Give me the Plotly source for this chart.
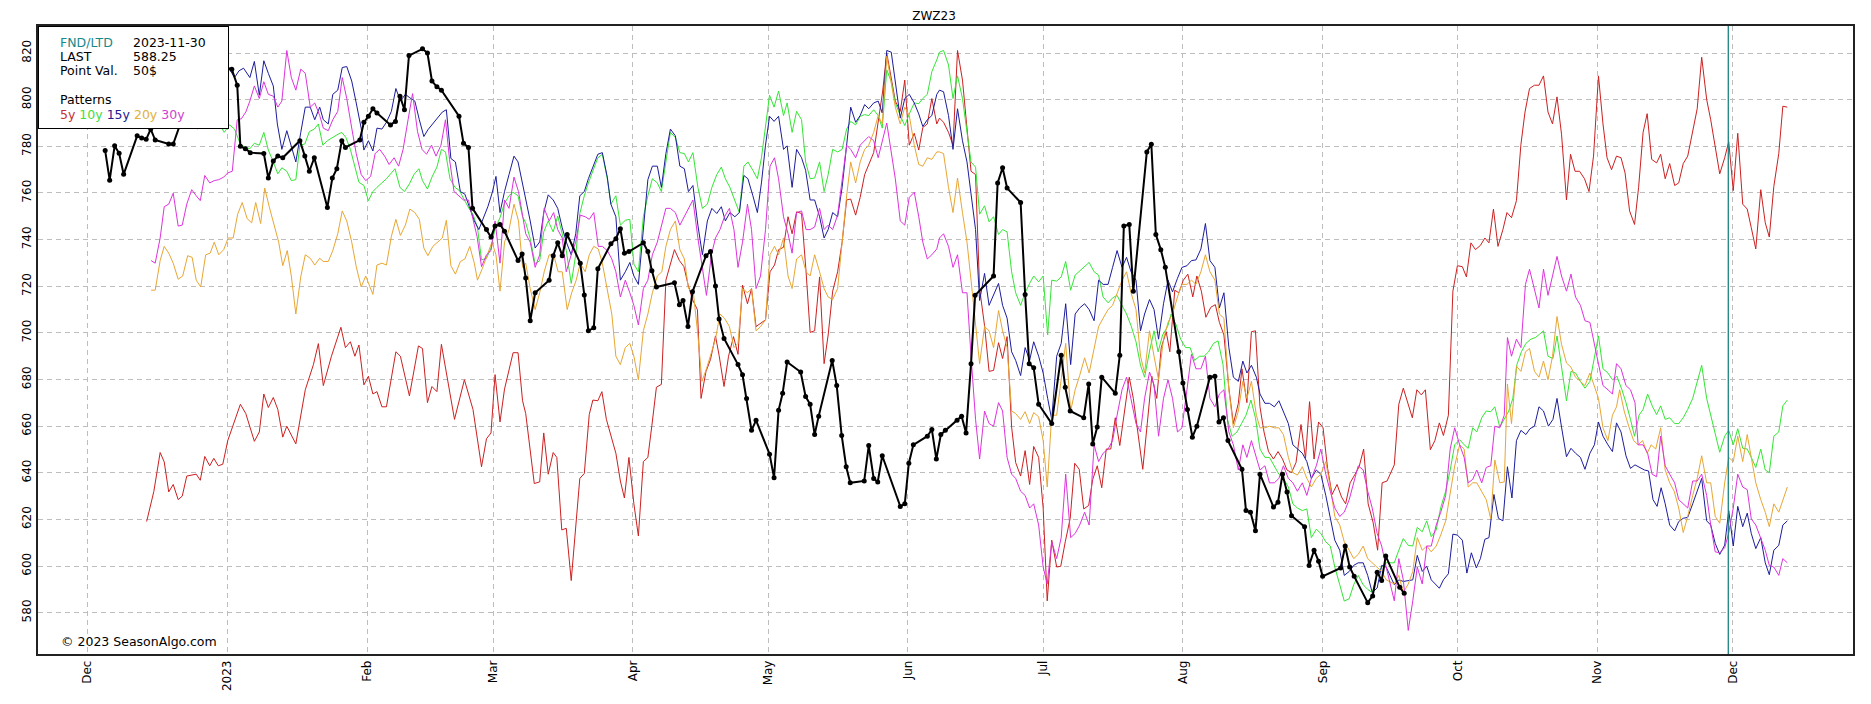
import pandas as pd
import plotly.graph_objects as go

# ---------------- DATA ----------------
# x values are day offsets from 2022-12-01, y values are prices
BASE_DATE = "2022-12-01"

month_ticks = ["2022-12-01", "2023-01-01", "2023-02-01", "2023-03-01", "2023-04-01", "2023-05-01",
               "2023-06-01", "2023-07-01", "2023-08-01", "2023-09-01", "2023-10-01", "2023-11-01", "2023-12-01"]
month_labels = ["Dec", "2023", "Feb", "Mar", "Apr", "May", "Jun", "Jul", "Aug", "Sep", "Oct", "Nov", "Dec"]
y_ticks = [580, 600, 620, 640, 660, 680, 700, 720, 740, 760, 780, 800, 820]

fnd_date = "2023-11-30"
info_labels = ["FND/LTD", "LAST", "Point Val."]
info_values = ["2023-11-30", "588.25", "50$"]
pattern_names = ["5y", "10y", "15y", "20y", "30y"]

price_zwz23 = [(3.9,778.2),(4.9,765.5),(6,780.2),(7,777),(8,768),(11,784.5),(12,783.6),(13,783),(14,787.4),(15,782.7),
    (18,781),(19,781),(21,792),(22,798),(25,803),(26,808),(27,812),(28,810),(29,815),(32,813),(33.2,806.2),(33.9,780),
    (35,779),(36.1,777.3),(39.1,776.9),(40.1,766.4),(41.2,773.7),(42.2,775.8),(43.3,775.1),(47.1,782.4),(48.2,775.8),
    (49.2,769.3),(50.3,775.1),(53.2,753.8),(54.3,766.4),(55.3,770.4),(56.4,782.4),(57.2,779.5),(60.4,782.7),(61.3,790.3),
    (62.3,792.9),(63.3,796.1),(64.2,794.3),(67.2,789.2),(68.3,790.7),(69.3,801.5),(70.3,795.7),(71.3,818.9),(74.3,821.8),
    (75.4,820),(76.4,808),(77.5,805.5),(78.5,804.1),(82.4,792.9),(83.4,781.3),(84.5,779.5),(85.4,753.4),(88.5,744.3),
    (89.5,741.1),(90.4,745.8),(91.5,746.5),(92.5,743.6),(95.5,731),(96.4,733.8),(97.2,723.5),(98.2,705.2),(99.3,717.2),
    (102.4,722.6),(103.3,733.1),(104.3,738.6),(105.3,733.1),(106.4,742.2),(109.3,729.9),(110.2,716.3),(111.1,700.9),
    (112.3,702.2),(113.2,727.5),(116.1,738.2),(117.2,740.4),(118.2,744.7),(119.1,734.2),(120.1,734.9),(123.3,738.6),
    (124.3,734.9),(125.2,726.6),(126.2,719.7),(130.2,721.5),(131.3,712.1),(132.1,713.9),(133.2,702.7),(134.2,717.6),
    (137.2,733.1),(138.2,734.9),(139.3,720.1),(140.1,706),(141.2,697.6),(144.3,686.4),(145.3,682),(146.2,671.9),
    (147.3,658.2),(148.3,662.5),(151.3,648),(152.3,637.9),(153.3,666.8),(154.2,674.1),(155.2,687.5),(158.2,683.2),
    (159.3,672.7),(160.3,669.4),(161.3,656.4),(162.2,664.3),(165.2,688.2),(166.2,677.4),(167.3,656),(168.3,642.6),
    (169.2,635.7),(172.3,636.5),(173.3,651.7),(174.4,637.6),(175.3,636.1),(176.3,647.3),(180.3,625.6),(181.3,626.7),
    (182.2,644.1),(183.2,652),(186.3,655.7),(187.3,658.6),(188.3,645.9),(189.3,656.4),(190.3,658.2),(192.9,662.5),
    (193.9,664.3),(194.9,657.1),(196,686.8),(196.9,716.1),(201,724.4),(201.9,764.3),(203,770.8),(204,762.1),(207,755.9),
    (208,716.5),(208.9,686.8),(209.9,685),(211,669.4),(213.9,661.1),(216,690.4),(216.9,676.7),(218,666.5),(221,663.6),
    (222.1,678.1),(223,652.4),(224,659.6),(225,681),(228,674.1),(229,690.4),(229.9,745.8),(231.1,746.5),(232,717.9),
    (235,777.6),(236,780.9),(237,742.2),(238.1,735.7),(239.1,728.1),(242.1,691.9),(243,678.5),(244,667.2),(245.1,655.3),
    (246.1,660),(249,681),(250.1,681.4),(251,661.8),(252,663.6),(253,653.8),(256.1,641.5),(257,623.8),(258,623.1),
    (259.1,615.1),(260.1,639.4),(263.1,625.3),(264.1,627.4),(265.1,639.4),(266.1,631.8),(267.1,621.6),(270,616.9),
    (271,600.3),(272.1,606.8),(273.1,602.1),(274,595.6),(278,599.2),(279,608.6),(280,599.6),(281,595.6),(284,584.3),
    (285.1,587.2),(286.1,597.4),(287.1,593.8),(288,604.3),(291.1,590.9),(292.1,588.3)]

pattern_5y = [(13.1,619.1),(14.7,632),(16.1,648.7),(17,644.7),(18,631.8),(19,635),(20.1,628.5),(21,630),(22,638.6),
    (24.1,639.4),(25,636.8),(26,647),(27.1,643),(28,646.2),(29,643),(30,643.7),(31.1,653.8),(33.9,669.4),(35.1,665.4),
    (37,653.5),(38.1,657.5),(39.1,673.8),(40.1,668),(41.2,672.3),(42.2,667.2),(43.3,655.3),(44.2,660),(46.2,652.4),
    (48.3,675.6),(50.1,686.4),(51.2,695.4),(52.3,677.4),(54.1,690),(56.2,702.4),(57.2,693.7),(58.3,696.2),(59.3,690),
    (60.2,694.8),(61.3,677.7),(62.3,681.4),(63.3,673.8),(64.2,674.8),(65.3,668.3),(66.3,668.3),(68.4,691.9),(69.4,690),
    (71.4,673),(73.4,694.4),(74.3,693.3),(75.4,670.1),(76.4,677),(77.5,674.8),(78.5,695.1),(81.4,662.9),(83.6,679.9),
    (85.5,667.2),(87.4,642.6),(88.5,654.6),(89.5,657.1),(90.4,682.1),(91.5,661.8),(92.5,675.9),(94.4,691.5),(95.5,691.5),
    (96.5,670.9),(97.2,665.4),(99.1,635.4),(100.3,636.1),(101.2,657.1),(102.2,639.4),(103.3,648.7),(104.1,646.6),
    (105.2,615.5),(106.2,616.2),(107.3,593.8),(109.2,637.6),(110.2,639.7),(111.3,665),(112.1,671.2),(113.2,670.9),
    (114.1,674.8),(115.1,662.9),(117.2,648.4),(118.2,636.5),(119.1,629.2),(120.1,646.6),(121.2,626.7),(122.2,612.9),
    (123.3,644.8),(124.3,646.6),(125.2,660.4),(126.2,676.7),(127.3,677.9),(128.3,722.6),(130.2,735.7),(131.3,731),
    (132.3,728.4),(133.2,720.8),(134.2,714.3),(135.3,709.9),(136.1,671.9),(137.2,683.5),(138.2,688.6),(139.3,698.7),
    (140.1,690.4),(141.2,677),(142.2,690),(143.3,698.4),(144.3,690.8),(145.3,720.5),(146.4,712.5),(147.3,719),
    (148.3,702.7),(150.4,705.6),(151.4,726.2),(152.4,729.1),(153.3,735.7),(154.4,736.7),(155.4,749.8),(156.3,742.5),
    (157.3,751.9),(158.4,751.2),(159.4,726.2),(160.3,700.2),(161.3,700.9),(162.4,724),(163.4,686.8),(164.3,699.1),
    (165.3,717.9),(166.4,726.2),(167.4,738.9),(168.4,757),(169.3,757.4),(170.4,750.5),(171.4,758.1),(172.4,767.9),
    (174.4,777.3),(175.4,789.6),(176.4,803.7),(177.3,820),(178.3,809.5),(179.2,799.4),(180.3,795),(181.3,808.4),
    (182.3,780.5),(183.4,785.6),(184.4,778.4),(185.3,788.1),(186.3,789.6),(187.3,800.5),(188.4,789.6),(189,792.1),
    (189.9,790.3),(191,786),(192,780.5),(193,821.1),(194.1,808.4),(195.1,786.7),(196,769.3),(197,767.9),(197.9,719),
    (199,703.1),(200,683.5),(201,683.9),(202.1,695.8),(203,689),(204,698.4),(205,659.6),(205.9,644.4),(207,638.6),
    (208,649.5),(209,635),(209.9,651.3),(211,646.6),(212,624.9),(212.9,585.1),(213.9,611.1),(215,599.6),(215.9,599.9),
    (216.9,610.4),(218,620.5),(219,644.1),(220,641.5),(221,624.5),(222.1,626),(223,637.2),(224,643),(225,633.6),
    (226,650.2),(227,650.2),(228,663.6),(229,651.7),(230.1,666.5),(231.1,681),(232,671.9),(233,657.5),(234.1,641.5),
    (235.1,661.1),(236.1,681.4),(237.2,671.9),(238.2,693.7),(239.3,700.5),(240.1,691.9),(241.2,718.3),(242.1,717.2),
    (243.1,722.6),(244.1,725.2),(245.2,715.4),(246.1,724.4),(247.1,717.9),(248.1,706.7),(249.2,711),(250.2,712.1),
    (251.1,704.5),(252.1,699.1),(253.2,676.3),(254.2,661.1),(255.3,669.8),(256.1,684.6),(257.2,670.1),(258.2,700.5),
    (259.1,700.9),(260.1,668.3),(261,657.5),(262,649.1),(263.1,645.9),(264.1,649.1),(265.1,645.9),(266.1,641.2),
    (267.1,640.1),(268.1,644.4),(269.2,660.7),(270.2,646.2),(271.1,670.5),(272.1,645.9),(273.1,661.8),(274.1,659.3),
    (275.1,641.9),(276.1,630.7),(277.2,635),(278.2,629.6),(279.1,626.7),(280.1,635.7),(281.2,639.4),(282.1,642.6),
    (283.1,650.2),(284.1,626.7),(285.2,618.7),(286.2,606.8),(287.2,635.7),(288.3,636.5),(289.9,643.4),(290.9,669.4),
    (291.9,676.3),(293.9,663.6),(294.9,675.6),(295.9,673.4),(296.8,675.6),(297.9,649.9),(298.9,653.8),(299.9,661.4),
    (300.8,656),(301.9,664.7),(302.9,717.9),(303.9,728.8),(305,728.4),(305.9,724),(306.9,738.6),(307.9,735.7),
    (309,737.5),(310,740.7),(310.9,738.6),(311.9,753.1),(312.9,737.1),(314,744.3),(314.9,751.6),(315.9,749.4),
    (317,756.7),(318,780.9),(318.9,794.7),(319.9,804.8),(321,806.2),(322,806.2),(323,810.2),(324,794.7),(325,789.6),
    (326,801.2),(327,785.2),(328.1,757),(329,776.6),(330,769.3),(331,769.3),(332.1,766.1),(333.1,760.6),(334.1,775.8),
    (335.2,810.2),(336.2,789.6),(337.1,775.1),(338.1,770),(339.2,775.8),(340.2,775.1),(341.1,768.6),(342.1,752.3),
    (343.2,746.5),(344.1,762.4),(345.1,786),(346,794),(347,774.4),(348.1,772.9),(349,776.6),(350,766.1),(351,772.6),
    (352.1,763.2),(353,764.3),(354,772.6),(355,775.8),(356.1,786.3),(357.1,796.1),(358.1,818.2),(359.2,800.1),
    (360.1,791.4),(361.1,779.1),(362.1,768.2),(363.2,775.1),(364.1,782),(365.1,761),(366.1,785.6),(367.2,755.2),
    (368.2,753.1),(369.1,745.1),(370.1,736),(371.2,761.4),(372.2,747.2),(373.1,741.1),(374.1,762.8),(375.2,776.9),
    (376.1,797.2),(377.1,796.8)]

pattern_10y = [(14,795),(16,798),(18,793),(20,796),(22,790),(24.4,787.4),(26,792),(28,794),(30.3,786),(31.5,789.2),
    (32.6,787.4),(33.9,780.9),(35,779.5),(36,779),(37,781.3),(38.1,780.5),(39.1,786),(40.1,778.4),(41.2,773.3),
    (42.2,768.2),(43.1,770.8),(44.2,769.3),(45.2,765.3),(46.2,765.7),(47.1,780.5),(48.2,781),(49.2,786.3),(50.3,787.4),
    (51.2,789.6),(52.2,780.5),(53.2,782.4),(54.3,783.8),(55.3,784.9),(56.4,786),(57.3,783.8),(58.3,778.7),(59.3,771.1),
    (60.2,764.6),(61.3,763.2),(62.3,756.7),(63.3,760.6),(64.2,762.4),(66.3,766.1),(67.2,768.2),(68.2,770.4),(69.3,762.4),
    (70.3,760.6),(71.4,763.9),(72.4,767.9),(73.5,770.4),(74.3,765.3),(75.4,761.7),(76.4,766.8),(77.5,771.1),(78.5,778.7),
    (79.4,777.6),(80.4,766.1),(81.5,762.4),(82.5,761),(83.6,757),(84.6,753.4),(85.5,750.9),(86.5,745.1),(87.4,731.3),
    (88.5,732),(89.5,736.4),(90.4,744.7),(91.5,749.4),(92.5,755.6),(93.5,758.8),(94.4,760.3),(95.5,758.8),(96.5,749.8),
    (97.2,747.2),(98.2,740.4),(99.3,729.5),(100.3,731),(101.2,743.3),(102.2,748),(103.3,743.3),(104.3,750.1),
    (105.3,742.5),(106.2,735.3),(107.3,721.2),(108.3,733.5),(109.2,751.2),(110.2,758.8),(111.1,764.3),(112.1,769.7),
    (113.2,775.1),(114.2,776.6),(115.3,766.1),(116.1,755.2),(117.2,758.8),(118.2,746.2),(119.3,748.3),(120.3,748.7),
    (121.2,729.5),(122.2,726.2),(123.3,749.8),(124.3,758.8),(125.3,766.1),(126.4,764.3),(127.3,760.6),(128.3,773.3),
    (129.3,786),(130.4,783.8),(131.4,777.3),(132.4,776.9),(133.3,773.3),(134.3,777.3),(135.4,762.4),(136.4,753.4),
    (137.5,755.2),(138.5,762.4),(139.6,767.9),(140.6,771.1),(141.5,766.1),(142.5,762.4),(143.6,757),(144.6,751.6),
    (145.6,771.5),(146.5,773.3),(147.6,769.7),(148.6,766.1),(149.5,775.1),(150.4,787.8),(151.3,801.9),(152.3,796.8),
    (153.3,803.7),(154.4,793.2),(155.2,798.6),(156.3,786),(157.3,795),(158.4,791.4),(159.3,773.3),(160.3,766.1),
    (161.3,766.4),(162.4,773.3),(163.4,760.6),(164.3,767.9),(165.3,778.7),(166.4,777.6),(167.4,778.7),(168.4,787.4),
    (169.3,790.7),(170.4,789.2),(171.4,792.9),(172.4,793.6),(173.3,793.2),(174.4,795.7),(175.4,793.2),(176.3,787.8),
    (177.3,812.8),(178.3,807.7),(179.2,798.6),(180.3,793.2),(181.3,788.9),(182.3,793.9),(183.4,798.6),(184.4,798.3),
    (185.3,800.5),(186.3,802.3),(187.3,812),(188.4,817.1),(189,820.4),(189.9,821.1),(191,814.9),(192,800.5),(193,810.2),
    (194.1,800.5),(195.1,787.1),(196,773.3),(197,771.1),(197.9,750.9),(199,754.5),(200,747.6),(201,749.8),(202.1,742.2),
    (203,744.3),(204,743.3),(205,726.2),(205.9,717.2),(207,711.8),(208,717.2),(209,721.2),(209.9,724.4),(211,721.9),
    (212,724.4),(213,699.1),(213.9,722.6),(215,722.2),(216,724),(217,730.6),(218.1,718.3),(219.1,724.8),(220.1,726.6),
    (221.2,728.4),(222.2,730.2),(223.3,726.2),(224.3,724.8),(225.3,715.4),(226.4,712.9),(227.4,715),(228.4,716.1),
    (229.5,711.8),(230.5,708.1),(231.5,703.1),(232.6,696.2),(233.6,686.1),(234.5,681),(235.6,692.2),(236.6,700.9),
    (237.5,691.9),(238.5,699.1),(239.6,702.7),(240.4,708.1),(241.5,703.4),(242.5,697.3),(243.6,693.7),(244.6,693.7),
    (245.6,688.2),(246.7,690),(247.7,690),(248.7,691.9),(249.8,695.5),(250.8,696.6),(251.9,686.4),(252.9,662.9),
    (253.9,655.7),(255,657.5),(256,661.1),(257,664.7),(258.1,671.2),(259.1,663.6),(260.1,650.2),(261.2,646.6),
    (262.2,646.6),(263.3,643),(264.3,639.4),(265.3,637.6),(266.4,633.9),(267.4,626.7),(268.4,624.9),(269.5,623.8),
    (270.5,624.5),(271.5,612.2),(272.6,615.8),(273.6,614),(274.7,610.4),(275.7,608.6),(276.7,599.6),(277.8,592),
    (278.8,585),(279.9,586),(280.9,592),(281.9,596),(283,592),(284,590),(285,588.7),(286.1,596),(287.1,599.6),
    (288.1,601.4),(289.9,601.4),(290.9,606.8),(291.9,611.8),(293,608.9),(294,608.6),(295,616.6),(296.1,614.7),
    (297.1,619.4),(298.1,612.6),(299.2,615.5),(300.2,625.1),(301.3,632.1),(302.3,641.2),(303.3,652),(304.4,654.2),
    (305.4,652),(306.3,650.5),(307.3,659.3),(308.2,657.5),(309.3,663.6),(310.3,666.5),(311.3,666.2),(312.2,668.3),
    (313.3,659.6),(314.3,662.9),(315.3,666.5),(316.2,671.9),(317.1,686.4),(318.1,691.9),(319.1,695.5),(320.2,697.3),
    (321.2,698),(322.1,699.4),(323,700.9),(324,690),(325.1,689),(326,698.7),(327,686.4),(328.1,670.9),(329.1,683.5),
    (330.1,682.8),(331.2,679.2),(332.2,676.3),(333.3,679.2),(334.3,690),(335.2,698.7),(336.2,684.6),(337.3,682.8),
    (338.3,679.9),(339.3,681.4),(340.4,675.6),(341.3,670.1),(342.3,662.9),(343.2,655.7),(344.2,664.7),(345.1,667.2),
    (346.1,673.8),(347.2,668.3),(348.1,665),(349,668.7),(350,662.9),(351,663.6),(352.1,661.1),(353,661.1),(354,663.6),
    (355,667.2),(356.1,671.9),(357.1,679.2),(358.1,686.1),(359.2,671.9),(360.1,664.7),(361.1,657.5),(362.1,648.8),
    (363.2,655.7),(364.1,658.2),(365.1,652),(366.1,658.9),(367.2,650.5),(368.2,650.2),(369.1,646.6),(370.1,642.3),
    (371.2,650.2),(372.2,641.2),(373.1,640.1),(374.1,655.7),(375.2,657.5),(376.1,668.7),(377.1,671.2)]

pattern_15y = [(14,800),(17,806),(20,803),(23,810),(26,808),(29,812),(31.5,813.1),(32.6,809.5),(33.6,812.4),(34.6,813.5),
    (36,809.5),(37,816.4),(38.1,801.9),(39.1,816.7),(40.1,811.3),(41.2,805.9),(42.1,789.6),(43.1,778.7),(44.2,786.7),
    (45.2,780.5),(46.2,773.3),(47.3,786),(48.3,796.8),(49.4,796.8),(50.4,791.4),(51.5,796.8),(52.3,791.4),(53.4,789.6),
    (54.4,802.3),(55.5,804.1),(56.5,813.8),(57.5,814.2),(58.6,808),(59.6,798.6),(60.7,787.8),(61.3,778.4),(62.3,782.4),
    (63.3,778),(64.2,787.8),(65.3,787.4),(66.3,790.3),(67.4,795),(68.4,804.8),(69.4,799.4),(70.5,802.3),(71.5,800.8),
    (72.6,799.4),(73.6,791.4),(74.6,784.2),(75.5,787.1),(76.6,789.6),(77.6,792.1),(78.7,794.7),(79.6,795.7),(80.6,774.8),
    (81.6,773.3),(82.7,760.6),(83.7,759.5),(84.8,753.4),(85.8,748),(86.8,744.3),(87.9,749.8),(88.8,754.1),(89.8,760.3),
    (90.6,767.1),(91.5,751.6),(92.5,760.6),(93.5,767.9),(94.6,775.8),(95.5,773.3),(96.5,764.3),(97.2,757.4),(98.2,748),
    (99.3,736.4),(100.3,739),(101.2,751.6),(102.2,759.2),(103.3,757),(104.3,753.4),(105.3,745.1),(106.2,739),
    (107.3,733.5),(108.3,742.5),(109.2,758.8),(110.2,760.6),(111.1,766.1),(112.1,771.5),(113.2,776.6),(114.2,777.3),
    (115.3,766.8),(116.1,755.2),(117.2,749.8),(118.2,722.6),(119.3,726.2),(120.3,730.2),(121.2,724.4),(122.2,720.8),
    (123.3,744.3),(124.3,765.7),(125.3,771.5),(126.4,771.5),(127.3,762.4),(128.3,776.9),(129.3,787.4),(130.4,784.5),
    (131.4,771.5),(132.4,770.4),(133.3,760.6),(134.3,763.2),(135.4,746.2),(136.4,733.5),(137.5,748),(138.5,753.4),
    (139.6,751.2),(140.6,754.1),(141.5,748),(142.5,751.6),(143.6,749.8),(144.6,751.6),(145.6,767.5),(146.5,766.1),
    (147.6,758.8),(148.6,751.6),(149.5,764.3),(150.4,780.5),(151.3,792.9),(152.3,790.7),(153.3,792.9),(154.4,778.7),
    (155.2,780.2),(156.3,762.4),(157.3,778.7),(158.4,775.1),(159.3,769.7),(160.3,757),(161.3,757),(162.4,749.8),
    (163.4,740.7),(164.3,744.3),(165.3,751.6),(166.4,749.8),(167.4,762.4),(168.4,780.5),(169.3,796.8),(170.4,790.3),
    (171.4,793.2),(172.4,797.9),(173.3,796.1),(174.4,798.6),(175.4,799.4),(176.3,794.3),(177.3,821.1),(178.3,820.4),
    (179.2,807.7),(180.3,792.1),(181.3,800.5),(182.3,802.3),(183.4,798.6),(184.4,793.9),(185.3,788.5),(186.3,791.4),
    (187.3,793.2),(188.4,802.3),(189,804.1),(189.9,803.4),(191,793.2),(192,778.7),(193,796.1),(194.1,782.4),(195.1,773.3),
    (196,758.8),(197,744.3),(197.9,713.9),(199,725.5),(200,711.8),(201,716.5),(202.1,721.2),(203,711.8),(204,706.3),
    (205,691.9),(205.9,688.2),(207,681.7),(208,693.7),(209,688.2),(209.9,696.2),(211,690),(212,682.8),(213,671.9),
    (213.9,662.9),(215,690),(216,695.5),(217,712.5),(218.1,686.4),(219.1,708.1),(220.1,710.7),(221.2,712.5),(222.2,710),
    (223.3,705.2),(224.3,722.6),(225.3,720.8),(226.4,720.8),(227.4,728.1),(228.4,735.3),(229.5,728.1),(230.5,732.4),
    (231.5,726.2),(232.6,722.6),(233.6,700.9),(234.5,708.1),(235.6,714.3),(236.6,710),(237.6,697.3),(238.7,712.5),
    (239.7,722.6),(240.7,717.6),(241.8,723.4),(242.8,728.1),(243.9,728.8),(244.9,731),(245.9,731.3),(247,736),(248,746.9),
    (249,731),(250.1,728.1),(251.1,710.7),(252.1,717.2),(253.2,693.7),(254.2,681),(255.3,679.2),(256.3,687.9),
    (257.2,682.8),(258.2,686.1),(259.3,681),(260.1,673.8),(261.2,669.8),(262.2,669.8),(263.3,668.3),(264.3,670.9),
    (265.3,666.5),(266.4,661.1),(267.4,652),(268.4,650.2),(269.5,648.4),(270.5,644.8),(271.5,637.6),(272.6,641.2),
    (273.6,639.4),(274.7,630.3),(275.7,621.3),(276.7,611.1),(277.8,606.8),(278.8,596),(279.9,597.7),(280.9,600.3),
    (281.9,601.4),(283,601.4),(284,596),(285,588.7),(286.1,590.6),(287.1,600.3),(288.1,599.6),(289.9,592),(290.9,594.1),
    (291.9,593.4),(294,594.1),(295,604.6),(296.1,597.7),(297.1,599.9),(298.1,594.1),(299.9,590.5),(300.8,594.1),
    (301.9,596.7),(302.9,613.7),(303.9,613.3),(305,611.1),(306,597),(307,605.7),(308.1,599.2),(309,603.2),(310,611.5),
    (310.9,612.2),(312,630.7),(313,620.5),(314,619.4),(315,642.6),(316,629.2),(317,653.8),(318,658.2),(319.1,656.4),
    (320,658.9),(321,660),(322,668.3),(323,666.5),(324.1,660),(325.1,662.9),(326,671.9),(327,659.6),(328.1,646.9),
    (329.1,650.5),(330.1,648.4),(331.2,646.6),(332.2,641.5),(333.3,648.4),(334.3,652),(335.2,661.8),(336.2,655.7),
    (337.3,652),(338.3,649.1),(339.2,661.4),(340.2,657.5),(341.3,647.3),(342.3,641.9),(343.3,643.4),(344.4,642.3),
    (345.4,641.2),(346.3,640.8),(347.3,628.5),(348.2,625.6),(349.1,633.6),(350,626.7),(351,617.6),(352.1,615.1),
    (353,619.1),(354,620.5),(355,620.9),(356.1,626.7),(357.1,632.5),(358.1,637.6),(359.2,619.4),(360.1,617.6),
    (361.1,609.7),(362.1,605),(363.2,609),(364.1,623.8),(365.1,608.6),(366.1,625.6),(367.2,616.9),(368.2,622.7),
    (369.1,614),(370.1,607.5),(371.2,612.2),(372.2,601.4),(373.1,596.3),(374.1,606.8),(375.2,608.9),(376.1,617.6),
    (377.1,619.4)]

pattern_20y = [(14.1,718.3),(15,718.3),(16.1,731),(17,737.1),(18,734.2),(19,729.9),(20.1,723),(21.1,724.4),(22.2,733.1),
    (23.2,732.4),(24.1,722.6),(25.1,719.7),(26.2,733.5),(27.2,734.2),(28.1,738.9),(29.1,733.5),(30.2,735.7),(31.2,740.7),
    (32.3,740.7),(33.3,750.9),(34.3,755.9),(35.4,749),(36.4,747.2),(37.3,755.9),(38.4,746.9),(39.3,762.1),(40.3,754.1),
    (41.4,746.2),(42.4,738.9),(43.3,728.8),(44.3,735.3),(45.2,724.4),(46.2,708.1),(47.3,724.1),(48.3,733.5),(49.4,732),
    (50.4,729.1),(51.5,732),(52.3,730.6),(53.4,730.6),(54.4,735.3),(55.5,742.5),(56.5,752.3),(57.5,748),(58.6,738.9),
    (59.6,728.4),(60.7,719.7),(61.7,724.4),(62.3,721.5),(63.3,716.5),(64.2,729.1),(65.3,729.9),(66.3,729.1),(67.4,741.4),
    (68.4,748.7),(69.4,741.8),(70.5,746.2),(71.5,753.1),(72.6,751.6),(73.6,748.7),(74.6,736.4),(75.5,733.1),(76.6,737.1),
    (77.6,738.9),(78.7,740.7),(79.6,748.3),(80.6,728.8),(81.6,725.2),(82.7,730.6),(83.7,731.7),(84.8,737.1),(85.8,729.9),
    (86.5,722.6),(87.6,727.7),(88.6,733.5),(89.7,738.9),(90.6,733.5),(91.5,717.9),(92.5,738.9),(93.5,744.3),(94.6,755.2),
    (95.6,748),(96.5,728.1),(97.2,729.9),(98.2,719),(99.3,710),(100.3,717.2),(101.3,726.2),(102.4,733.5),(103.4,733.5),
    (104.4,726.2),(105.3,726.2),(106.4,710),(107.4,717.2),(108.4,722.6),(109.3,729.9),(110.4,726.2),(111.3,733.5),
    (112.3,737.1),(113.3,736),(114.2,729.9),(115.3,719),(116.3,708.1),(117.2,690),(118.2,686.4),(119.3,693.7),
    (120.3,695.5),(121.2,690),(122.2,679.9),(123.3,700.9),(124.3,708.1),(125.3,717.2),(126.4,724.4),(127.4,726.2),
    (128.3,737.1),(129.3,744.3),(130.4,748),(131.4,735.7),(132.4,731.7),(133.3,719),(134.4,717.2),(135.4,699.1),
    (136.3,679.2),(137.3,684.6),(138.4,691.9),(139.3,697.3),(140.3,708.1),(141.3,706.3),(142.4,702.7),(143.4,693.7),
    (144.3,695.5),(145.3,719),(146.4,717.2),(147.3,719),(148.3,700.9),(149.3,702.7),(150.4,705.6),(151.4,733.5),
    (152.4,737.1),(153.3,733.5),(154.4,740.7),(155.4,724.4),(156.3,719),(157.3,731.7),(158.4,733.5),(159.4,726.2),
    (160.3,724.4),(161.3,733.5),(162.4,726.2),(163.4,719),(164.3,715.4),(165.3,714.3),(166.4,719),(167.4,738.9),
    (168.4,758.8),(169.3,773.3),(170.4,764.3),(171.4,773.3),(172.4,778.7),(173.3,780.5),(174.4,786),(175.4,793.2),
    (176.3,789.6),(177.3,818.6),(178.3,807.7),(179.2,796.8),(180.3,789.6),(181.3,796.8),(182.3,793.2),(183.4,780.5),
    (184.4,772.2),(185.3,771.5),(186.3,775.1),(187.3,774.4),(188.4,777.6),(189,777.6),(189.9,776.9),(191,762.4),
    (192,751.6),(193,766.4),(194.1,751.6),(195.1,738.9),(196,722.6),(197,702.7),(197.9,686.8),(199,702.7),(200,700.9),
    (201,693.7),(202.1,709.6),(203,700.9),(204,693.7),(205,666.5),(205.9,665.4),(207,662.9),(208,666.2),(209,661.1),
    (209.9,665.8),(211,664),(212,653.8),(212.9,633.9),(213.9,664.7),(215,664.7),(216,679.2),(217,695.5),(218.1,666.5),
    (219.1,675.6),(220.1,681.7),(221.2,689.3),(222.2,682.8),(223.3,692.6),(224.3,702.7),(225.3,706.3),(226.4,710),
    (227.4,711.8),(228.4,717.2),(229.5,722.6),(230.5,726.2),(231.5,717.2),(232.6,710),(233.6,690),(234.5,682.8),
    (235.6,700.9),(236.6,690),(237.6,679.9),(238.7,697.3),(239.7,704.5),(240.7,708.1),(241.8,715.4),(242.8,720.8),
    (243.9,720.8),(244.9,722.6),(245.9,720.8),(247,726.2),(248,733.5),(249,726.2),(250.1,722.6),(251.1,708.1),
    (252.1,706.3),(253.2,675.6),(254.2,659.3),(255.3,666.5),(256.3,679.2),(257.2,671.9),(258.2,679.2),(259.3,664.7),
    (260.1,659.3),(261.2,659.3),(262.2,660),(263.3,659.3),(264.3,659.3),(265.3,656.4),(266.4,646.6),(267.4,640.1),
    (268.4,639),(269.5,642.6),(270.5,637.6),(271.5,633.9),(272.6,637.6),(273.6,639.4),(274.7,644.8),(275.7,633.9),
    (276.7,621.3),(277.8,617.6),(278.8,610.4),(279.9,606.8),(280.9,603.2),(281.9,605),(283,608.6),(284,603.2),
    (285,601.4),(286.1,599.6),(287.1,597.7),(288.1,594.1),(289.9,592.3),(290.9,596),(291.9,588.7),(293,592.3),
    (294,597.7),(295,612.2),(296.1,606.8),(297.1,608.6),(298.1,606.1),(299.2,608.6),(300.2,613.3),(301.3,619.4),
    (302.3,632.1),(303.3,643),(304.4,652),(305.4,650.2),(306.3,633.9),(307.3,635.7),(308.2,635.7),(309.3,632.1),
    (310.3,628.5),(311.3,620.2),(312.2,645.5),(313.3,635.7),(314.3,636.1),(315,678.1),(315.9,661.1),(317,685.7),
    (318,683.5),(319,691.9),(319.9,693.3),(321,683.5),(322,681),(323,687.9),(324,679.9),(325,690),(326,707),(327,695.1),
    (328.1,687.1),(329.1,685.3),(330.1,681),(331.2,679.2),(332.2,677.4),(333.3,682.8),(334.3,677.4),(335.2,671.9),
    (336.2,659.3),(337.3,653.8),(338.3,664.7),(339.2,668.3),(339.9,675.6),(340.9,666.5),(341.9,660),(343,653.8),
    (344,652),(345,653.8),(346,648.4),(346.9,652),(347.9,650.2),(349,659.3),(350,641.2),(351,635.7),(352,632.1),
    (353,624.9),(354,614.4),(355,621.3),(356.1,630.3),(357.1,637.6),(358.1,647.3),(359.2,635.7),(360.1,635.7),
    (361.1,621.3),(362.1,618.4),(363.2,635.7),(364.1,646.6),(365.1,644.8),(366.1,655.7),(367.2,644.8),(368.2,656.4),
    (369.1,646.6),(370.1,635.7),(371.2,628.5),(372.2,623.1),(373.1,616.9),(374.1,626.7),(375.2,623.1),(376.1,628.5),
    (377.1,633.9)]

pattern_30y = [(14.1,731),(15,729.9),(16.1,740.7),(17,754.1),(18,755.2),(19,759.9),(20.1,745.8),(21,746.2),(22,755.2),
    (23.1,761.4),(24.1,758.8),(25,756.7),(26,767.5),(27.1,764.3),(28.1,765.3),(29.1,765.7),(30.2,766.8),(31.1,768.6),
    (32.1,769.3),(33.2,791.4),(34.1,791.8),(35.1,794.7),(36,799.4),(37,805.9),(38.1,800.5),(39.1,807.7),(40.1,802.3),
    (41.2,801.5),(42.2,796.8),(43.1,799.4),(44.2,821.1),(45.2,809.5),(46.2,804.1),(47.3,813.1),(48.3,811.3),(49.4,796.8),
    (50.4,798.6),(51.5,793.2),(52.3,787.8),(53.4,786.7),(54.4,791.4),(55.5,795),(56.5,809.5),(57.5,800.5),(58.6,787.8),
    (59.6,776.9),(60.7,767.9),(61.7,765.3),(62.8,767.1),(63.8,776.9),(64.8,778.7),(65.9,775.8),(66.9,772.2),(68,775.1),
    (69,771.5),(70,778.7),(71.1,791.4),(72.1,802.6),(73.2,786.3),(74.2,778.7),(75.2,776.6),(76.3,780.5),(77.3,775.8),
    (78.4,780.5),(79.4,791.4),(80.3,774.4),(81.3,760.6),(82.4,758.8),(83.4,757),(84.5,757),(85.4,749.8),(86.4,741.4),
    (87.4,728.4),(88.5,733.5),(89.5,735.3),(90.4,748),(91.5,729.9),(92.5,757),(93.5,753.4),(94.6,766.8),(95.6,760.6),
    (96.5,749.8),(97.2,742.5),(98.2,738.9),(99.3,728.1),(100.3,733.5),(101.3,753.4),(102.4,748),(103.4,751.6),
    (104.3,744.3),(105.3,740.7),(106.2,726.2),(107.3,733.5),(108.3,738.9),(109.3,750.5),(110.4,749.8),(111.3,748.7),
    (112.3,751.6),(113.3,737.1),(114.2,737.1),(115.3,735.3),(116.3,731.7),(117.2,726.2),(118.2,715.4),(119.3,722.6),
    (120.3,717.2),(121.2,711.8),(122.2,703.4),(123.3,719),(124.3,722.6),(125.3,733.5),(126.4,738.9),(127.3,746.2),
    (128.3,753.4),(129.3,753.4),(130.4,751.6),(131.4,746.2),(132.4,749.8),(133.3,753.4),(134.3,757),(135.4,740.7),
    (136.3,729.9),(137.3,716.1),(138.4,733.5),(139.3,740.7),(140.3,744.3),(141.3,749.8),(142.4,753.4),(143.4,744.3),
    (144.3,728.1),(145.3,738.9),(146.4,755.2),(147.3,744.3),(148.3,719),(149.3,724.4),(150.4,744.3),(151.4,771.5),
    (152.4,775.1),(153.3,766.1),(154.4,749.8),(155.4,742.5),(156.3,734.2),(157.3,751.6),(158.4,752.3),(159.4,744.3),
    (160.3,744.3),(161.3,745.4),(162.4,753.4),(163.4,744.3),(164.3,746.2),(165.3,744.3),(166.4,750.5),(167.4,766.1),
    (168.4,780.5),(169.3,778.7),(170.4,775.1),(171.4,780.5),(172.4,782.4),(173.3,784.2),(174.4,782.4),(175.4,775.1),
    (177.3,790),(178.3,776.9),(179.2,766.1),(180.3,748),(181.3,746.2),(182.3,758.1),(183.4,760.3),(184.4,749.8),
    (185.3,738.9),(186.3,731.7),(187.3,733.5),(188.4,736),(189,740.7),(189.9,742.5),(191,737.1),(192,728.1),(193,733.5),
    (194.1,717.2),(195.1,717.2),(196,690),(197,662.9),(197.9,645.9),(199,666.5),(200,661.1),(201,660),(202.1,670.1),
    (203,666.5),(204,646.6),(205,639.4),(205.9,637.6),(207,632.1),(208,630.3),(209,624.9),(209.9,626.7),(211,617.6),
    (212,599.6),(212.9,592.3),(213.9,610.4),(215,603.2),(216,612.2),(217,639.4),(218.1,612.2),(219.1,614),(220.1,617.6),
    (221.2,623.1),(222.2,617.6),(223.3,652),(224.3,644.8),(225.3,648.4),(226.4,650.2),(227.4,653.8),(228.4,664.7),
    (229.5,675.6),(230.5,681),(231.5,671.9),(232.6,661.1),(233.6,657.5),(234.5,671.9),(235.6,683.2),(236.6,677.7),
    (237.6,655.7),(238.7,671.9),(239.7,679.9),(240.7,671.9),(241.8,657.5),(242.8,659.3),(243.9,675.6),(244.9,690.8),
    (245.9,684.6),(247,684.6),(248,690),(249,671.9),(250.1,668.3),(251.1,673.8),(252.1,675.6),(253.2,657.5),(254.2,652),
    (255.3,641.2),(256.3,652),(257.2,646.6),(258.2,653.8),(259.3,646.6),(260.1,641.2),(261.2,643),(262.2,635.7),
    (263.3,635.7),(264.3,637.6),(265.3,643),(266.4,637.6),(267.4,635.7),(268.4,632.1),(269.5,635.7),(270.5,630.3),
    (271.5,637.6),(272.6,643),(273.6,650.2),(274.7,639.4),(275.7,632.1),(276.7,624.9),(277.8,621.3),(278.8,623.1),
    (279.9,628.5),(280.9,635.7),(281.9,643),(283,641.2),(284,632.1),(285,624.9),(286.1,614),(287.1,608.6),(288.1,599.6),
    (289.9,585.1),(290.9,603.2),(291.9,594.1),(293,572.4),(294,585.1),(295,599.6),(296.1,592.3),(297.1,608.6),
    (298.1,608.6),(299.2,617.6),(300.2,623.1),(301.3,630.3),(302.3,650.2),(303.3,659.3),(304.4,652),(305.4,646.6),
    (306.3,635.7),(307.3,637.2),(308.2,641.2),(309.3,635.7),(310.3,642.3),(311.3,643),(312.2,660),(313.3,659.3),
    (314.3,664.7),(315,698),(315.9,690),(317,697.3),(318,693.7),(319,720.8),(319.9,727.3),(321,719),(322,710.7),
    (323,727.3),(324,716.1),(325,724.4),(326,732.8),(327,724.4),(328.1,717.9),(329.1,725.2),(330.1,715.4),(331.2,711.8),
    (332.2,705.2),(333.3,704.5),(334.3,695.5),(335.2,686.4),(336.2,677.4),(337.3,675.6),(338.3,673.8),(339.2,686.8),
    (340.2,684.6),(341.3,677.4),(342.3,675.6),(343.3,670.1),(344,652),(345.1,652),(346.1,648.4),(347.1,639.4),
    (348.1,638.3),(349,655.7),(350,643),(351,639.4),(352.1,635.7),(353,628.5),(354,626.7),(355,624.9),(356.1,636.5),
    (357.1,636.5),(358.1,639.4),(359.2,630.3),(360.1,617.6),(361.1,606.1),(362.1,605.7),(363.2,607.9),(364.1,614.2),
    (365.1,624.9),(366.1,639.4),(367.2,633.9),(368.2,632.8),(369.1,620.2),(370.1,617.6),(371.2,612.2),(372.2,606.8),
    (373.1,600.3),(374.1,599.6),(375.2,596),(376.1,603.2),(377.1,601.4)]

# ---------------- STYLE ----------------
FONT = "DejaVu Sans"
W, H = 1871, 704
ML, MR, MT, MB = 38, 18, 26, 50
PW, PH = W - ML - MR, H - MT - MB

series_style = [
    ("5y", pattern_5y, "#cc2020"),
    ("10y", pattern_10y, "#33e633"),
    ("15y", pattern_15y, "#1c1c9c"),
    ("20y", pattern_20y, "#e8a633"),
    ("30y", pattern_30y, "#dd33dd"),
]
legend_colors = ["#c83030", "#40e040", "#202090", "#e0b040", "#d040d0"]

base = pd.Timestamp(BASE_DATE)


def to_xy(pairs):
    xs = [base + pd.Timedelta(days=d) for d, _ in pairs]
    ys = [v for _, v in pairs]
    return xs, ys


fig = go.Figure()
for name, pairs, color in series_style:
    xs, ys = to_xy(pairs)
    fig.add_trace(go.Scatter(x=xs, y=ys, mode="lines", name=name,
                             line=dict(color=color, width=1), hoverinfo="skip"))

xs, ys = to_xy(price_zwz23)
fig.add_trace(go.Scatter(x=xs, y=ys, mode="lines+markers", name="ZWZ23",
                         line=dict(color="black", width=2),
                         marker=dict(color="black", size=5)))


def px_x(p):
    return (p - ML) / PW


def px_y(p):
    return 1 - (p - MT) / PH


shapes = [
    dict(type="line", xref="x", yref="paper", x0=fnd_date, x1=fnd_date, y0=0, y1=1,
         line=dict(color="#1b8080", width=1.3), layer="above"),
]

TXT = 12.5
annotations = [
    # opaque info box (annotations are drawn above all traces)
    dict(text=" ", x=0, y=1, xref="paper", yref="paper", xanchor="left", yanchor="top",
         width=189, height=101, bgcolor="white", bordercolor="black", borderwidth=1, borderpad=0,
         showarrow=False, font=dict(family=FONT, size=TXT)),
]
label_colors = ["#168a8a", "black", "black"]
rows_y = [42.7, 56.7, 70.7]
for lab, val, col, ry in zip(info_labels, info_values, label_colors, rows_y):
    annotations.append(dict(text=lab, x=px_x(58), y=px_y(ry), xref="paper", yref="paper",
                            xanchor="left", yanchor="middle", showarrow=False,
                            font=dict(family=FONT, size=TXT, color=col)))
    annotations.append(dict(text=val, x=px_x(131), y=px_y(ry), xref="paper", yref="paper",
                            xanchor="left", yanchor="middle", showarrow=False,
                            font=dict(family=FONT, size=TXT, color="black")))
annotations.append(dict(text="Patterns", x=px_x(58), y=px_y(99.3), xref="paper", yref="paper",
                        xanchor="left", yanchor="middle", showarrow=False,
                        font=dict(family=FONT, size=TXT, color="black")))
pat_text = " ".join(f'<span style="color:{c}">{n}</span>' for n, c in zip(pattern_names, legend_colors))
annotations.append(dict(text=pat_text, x=px_x(58), y=px_y(114.3), xref="paper", yref="paper",
                        xanchor="left", yanchor="middle", showarrow=False,
                        font=dict(family=FONT, size=TXT, color="black")))
annotations.append(dict(text="© 2023 SeasonAlgo.com", x=px_x(59), y=px_y(641), xref="paper", yref="paper",
                        xanchor="left", yanchor="middle", showarrow=False,
                        font=dict(family=FONT, size=TXT, color="black")))

fig.update_layout(
    width=W, height=H,
    margin=dict(l=ML, r=MR, t=MT, b=MB, pad=0),
    paper_bgcolor="white", plot_bgcolor="white",
    showlegend=False,
    title=dict(text="ZWZ23", x=934 / W, xanchor="center", y=1 - 15.5 / H, yanchor="middle",
               font=dict(family=FONT, size=12, color="black")),
    font=dict(family=FONT, size=12, color="black"),
    shapes=shapes,
    annotations=annotations,
)

fig.update_xaxes(
    type="date",
    range=["2022-11-20", "2023-12-27 16:00"],
    tickmode="array", tickvals=month_ticks, ticktext=month_labels,
    tickangle=-90, tickfont=dict(family=FONT, size=12, color="black"),
    showgrid=True, gridcolor="#bdbdbd", griddash="5px,4px", gridwidth=1,
    showline=True, linecolor="#222222", linewidth=1.5, mirror=True,
    ticks="", zeroline=False,
)
fig.update_yaxes(
    range=[562.3, 831.6],
    tickmode="array", tickvals=y_ticks,
    tickangle=-90, tickfont=dict(family=FONT, size=12, color="black"),
    showgrid=True, gridcolor="#bdbdbd", griddash="5px,4px", gridwidth=1,
    showline=True, linecolor="#222222", linewidth=1.5, mirror=True,
    ticks="", zeroline=False,
)

fig.write_html("out.html", config={"displayModeBar": False},
               post_script="document.body.style.margin='0';document.body.style.overflow='hidden';")
